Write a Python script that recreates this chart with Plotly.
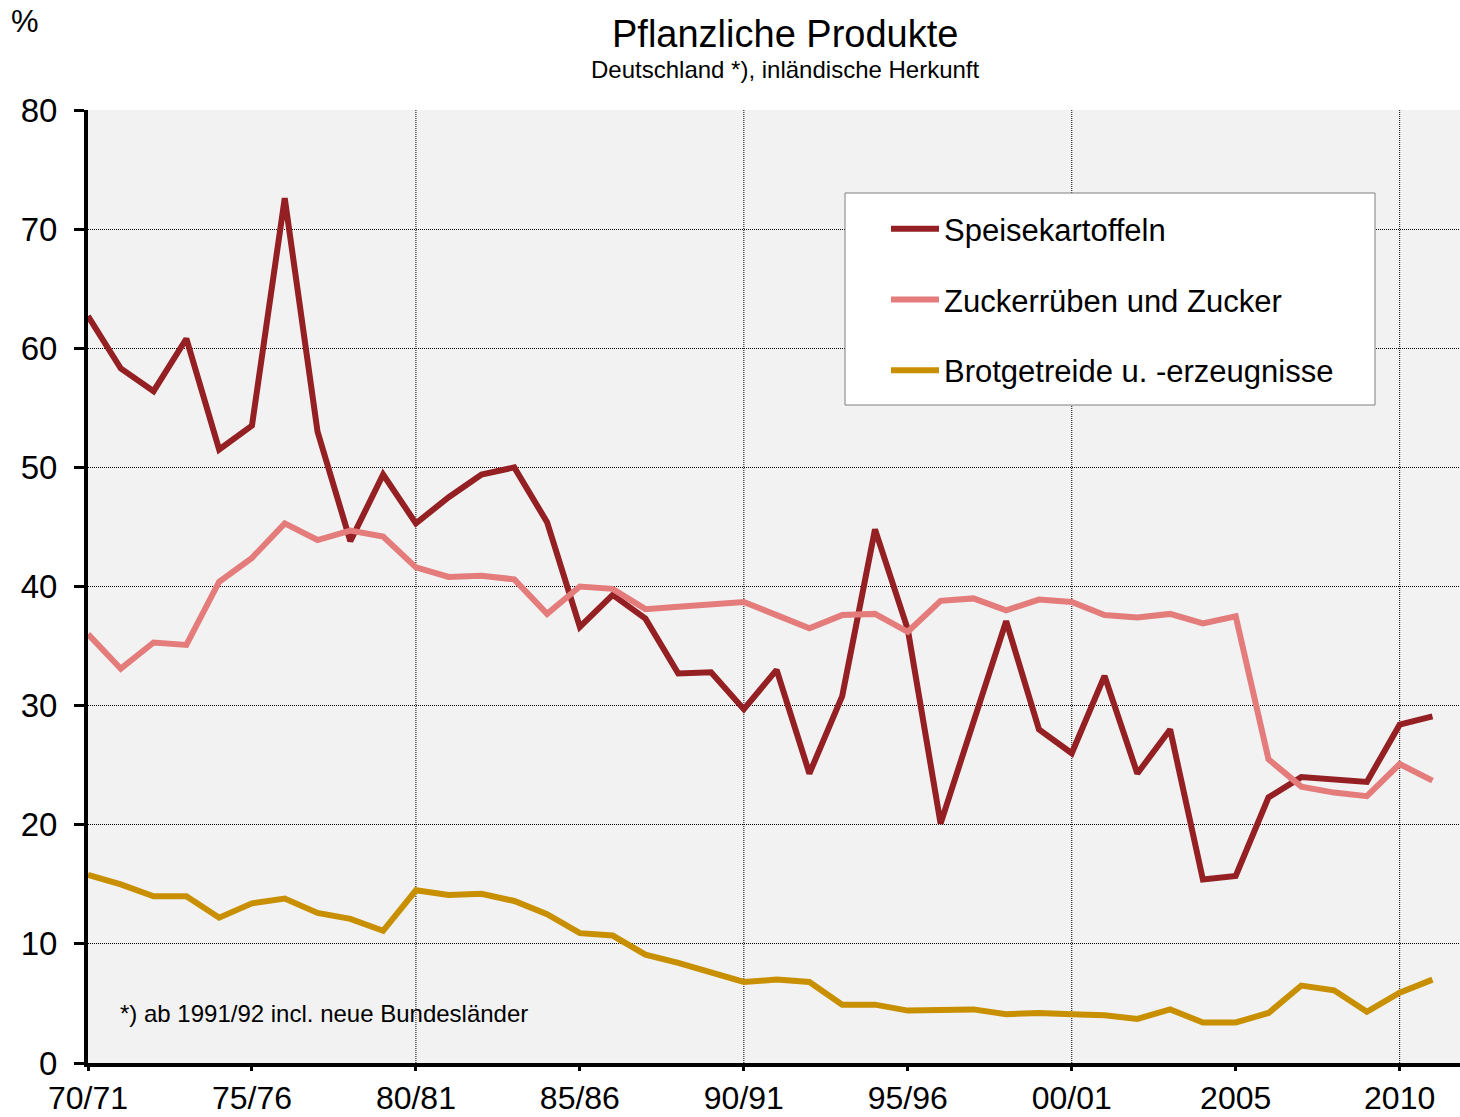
import plotly.graph_objects as go

# ---------------- data ----------------
years = list(range(1970, 2012))  # 70/71 ... 2011/12 (start year of season)
tick_years = [1970, 1975, 1980, 1985, 1990, 1995, 2000, 2005, 2010]
tick_labels = ["70/71", "75/76", "80/81", "85/86", "90/91", "95/96", "00/01", "2005", "2010"]
grid_years = [1980, 1990, 2000, 2010]
y_ticks = [0, 10, 20, 30, 40, 50, 60, 70, 80]

speisekartoffeln = [62.7, 58.3, 56.4, 60.8, 51.5, 53.5, 72.6, 53.0, 43.8, 49.4,
                    45.3, 47.5, 49.4, 50.0, 45.4, 36.6, 39.3, 37.3, 32.7, 32.8,
                    29.7, 33.0, 24.3, 30.8, 44.8, 36.4, 20.1, 28.7, 37.1, 28.0,
                    26.0, 32.5, 24.3, 28.0, 15.4, 15.7, 22.3, 24.0, 23.8, 23.6,
                    28.4, 29.1]
zucker = [36.0, 33.1, 35.3, 35.1, 40.4, 42.4, 45.3, 43.9, 44.7, 44.2,
          41.6, 40.8, 40.9, 40.6, 37.7, 40.0, 39.8, 38.1, 38.3, 38.5,
          38.7, 37.6, 36.5, 37.6, 37.7, 36.2, 38.8, 39.0, 38.0, 38.9,
          38.7, 37.6, 37.4, 37.7, 36.9, 37.5, 25.5, 23.2, 22.7, 22.4,
          25.1, 23.7]
brotgetreide = [15.8, 15.0, 14.0, 14.0, 12.2, 13.4, 13.8, 12.6, 12.1, 11.1,
                14.5, 14.1, 14.2, 13.6, 12.5, 10.9, 10.7, 9.1, 8.4, 7.6,
                6.8, 7.0, 6.8, 4.9, 4.9, 4.4, 4.5, 4.5, 4.1, 4.2,
                4.1, 4.0, 3.7, 4.5, 3.4, 3.4, 4.2, 6.5, 6.1, 4.3,
                5.9, 7.0]

series_names = ["Speisekartoffeln", "Zuckerrüben und Zucker", "Brotgetreide u. -erzeugnisse"]
series_values = [speisekartoffeln, zucker, brotgetreide]
series_colors = ["#952024", "#e47c7c", "#c88f00"]

FONT = "Liberation Sans, Arial, sans-serif"
GRID_DASH = "1px,1px"

# plot-area geometry (px)
W, H = 1460, 1117
L, R, T, B = 88, 0, 110, 54
pw, ph = W - L - R, H - T - B


def px_x(px):
    return (px - L) / pw


def px_y(py):
    return (H - B - py) / ph


fig = go.Figure()
for name, vals, color in zip(series_names, series_values, series_colors):
    fig.add_trace(go.Scatter(
        x=years, y=vals, mode="lines", name=name, legendgroup=name,
        line=dict(color=color, width=6),
    ))

xrange = [1970, 2011.84]

shapes = [dict(
    type="line", xref="x", yref="paper", layer="between",
    x0=gy, x1=gy, y0=0, y1=1,
    line=dict(color="black", width=1, dash=GRID_DASH),
) for gy in grid_years]
shapes.append(dict(
    type="rect", xref="paper", yref="paper", layer="above",
    x0=px_x(845), x1=px_x(1375), y0=px_y(405), y1=px_y(193),
    fillcolor="white", line=dict(color="#7f7f7f", width=1),
))

fig.update_layout(
    width=W, height=H,
    margin=dict(l=L, r=R, t=T, b=B, autoexpand=False),
    paper_bgcolor="white",
    plot_bgcolor="#f2f2f2",
    font=dict(family=FONT, color="black"),
    showlegend=True,
    legend=dict(
        x=px_x(886), y=px_y(202), xanchor="left", yanchor="top",
        bgcolor="rgba(0,0,0,0)", borderwidth=0,
        font=dict(size=31, family=FONT, color="black"),
        traceorder="grouped", tracegroupgap=27.5,
        itemwidth=48,
    ),
    xaxis=dict(
        range=xrange, tickvals=tick_years, ticktext=tick_labels,
        ticks="outside", ticklen=4, tickwidth=3, tickcolor="black",
        showline=True, linewidth=4, linecolor="black",
        showgrid=False, zeroline=False, ticklabelstandoff=0, automargin=False,
        tickfont=dict(size=32, family=FONT, color="black"),
    ),
    yaxis=dict(
        range=[0, 80], tickvals=y_ticks,
        ticks="outside", ticklen=10, tickwidth=3, tickcolor="black",
        showline=True, linewidth=4, linecolor="black",
        showgrid=True, gridcolor="black", gridwidth=1, griddash=GRID_DASH,
        zeroline=False, ticklabelstandoff=10, automargin=False,
        tickfont=dict(size=33, family=FONT, color="black"),
    ),
    shapes=shapes,
    annotations=[
        dict(text="Pflanzliche Produkte", xref="paper", yref="paper",
             x=px_x(785), y=px_y(34), xanchor="center", yanchor="middle",
             showarrow=False, font=dict(size=38, family=FONT, color="black")),
        dict(text="Deutschland *), inländische Herkunft", xref="paper", yref="paper",
             x=px_x(785), y=px_y(69), xanchor="center", yanchor="middle",
             showarrow=False, font=dict(size=24, family=FONT, color="black")),
        dict(text="%", xref="paper", yref="paper",
             x=px_x(9), y=px_y(22), xanchor="left", yanchor="middle",
             showarrow=False, font=dict(size=31, family=FONT, color="black")),
        dict(text="*) ab 1991/92 incl. neue Bundesländer", xref="paper", yref="paper",
             x=px_x(118), y=px_y(1013), xanchor="left", yanchor="middle",
             showarrow=False, font=dict(size=24, family=FONT, color="black")),
    ],
)

fig.write_html(
    "out.html",
    config={"displayModeBar": False},
    post_script="document.body.style.margin='0';document.body.style.overflow='hidden';",
)
